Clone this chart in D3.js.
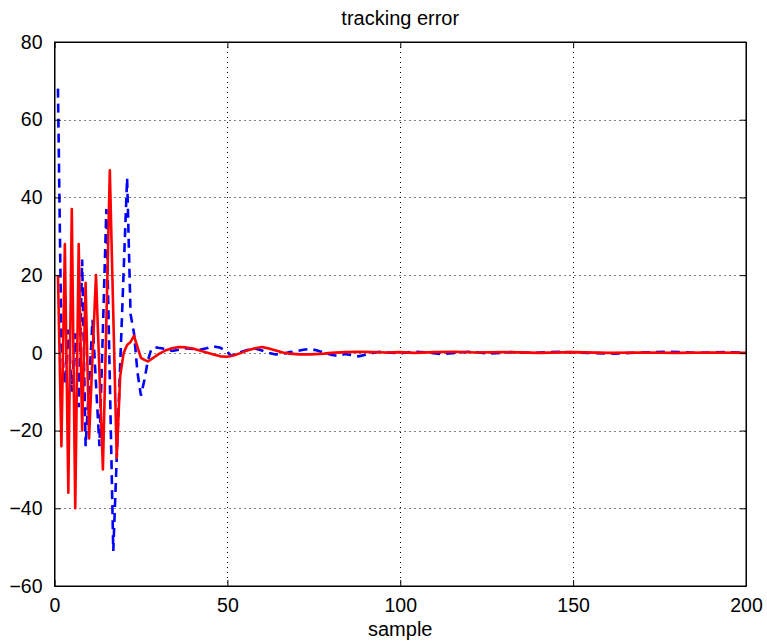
<!DOCTYPE html>
<meta charset="UTF-8">
<head>
    <title>tracking error</title>
    <style>
        body { margin: 0; background: #fff; }
        text { font-family: "Liberation Sans", Arial, sans-serif; }
    </style>
</head>
<body>
<svg width="767" height="644"></svg>
<script src="https://d3js.org/d3.v7.min.js"></script>
<script>

// Data (sample index, tracking error).
var redSamples = [1, 2, 3, 4, 5, 6, 7, 8, 9, 10, 11, 12, 13, 14, 15, 16, 17, 18, 19, 20,
    21, 22, 23, 24, 25, 26, 27, 28, 29, 30, 32, 34, 36, 38, 40, 42, 44, 46, 48, 50,
    52, 54, 56, 58, 60, 62, 64, 66, 68, 71, 74, 78, 80, 84, 88, 92, 96, 100, 104, 110,
    116, 122, 130, 140, 150, 160, 170, 180, 190, 200];
var redError = [20, -24, 28, -36, 37, -40, 28, -20, 18, -22, -1, 20, -5, -30, 8, 47, 10, -27, -6, 0,
    2, 2.8, 4.4, 1.5, -1.3, -1.8, -2.2, -1.6, -1, -0.4, 0.6, 1.2, 1.5, 1.4, 1.1, 0.6, 0.1, -0.4, -0.9, -1,
    -0.6, 0, 0.7, 1.2, 1.5, 1.1, 0.6, 0.1, -0.2, -0.4, -0.4, -0.2, 0, 0.2, 0.3, 0.2, 0.1, 0.2, 0, 0.2,
    0.3, 0.1, 0.2, 0, 0.2, 0, 0.1, 0, 0.1, 0];

var blueSamples = [1, 2, 3, 4, 5, 6, 7, 8, 9, 10, 11, 12, 13, 14, 15, 16, 17, 18, 19, 20,
    21, 22, 23, 24, 25, 26, 27, 28, 29, 30, 32, 34, 36, 38, 40, 42, 44, 46, 48, 50,
    51, 53, 56, 58, 60, 62, 64, 66, 68, 70, 72, 74, 76, 78, 80, 82, 84, 86, 88, 90,
    92, 94, 96, 100, 104, 108, 112, 116, 120, 126, 132, 138, 146, 154, 162, 170, 178, 186, 194, 200];
var blueError = [68, 2, -8, 6, -10, 5, -14, 24, -24, -8, 8.5, -8, -24, 6, 37, -7, -51, -27, -3, 21,
    45, 10, 5, -5, -11, -7, -2, 1, 1.5, 1.3, 1, 0.5, 0.8, 1.2, 1, 0.8, 1.2, 1.7, 1.3, 0.3,
    -0.8, 0, 0.8, 1.1, 0.6, 0, -0.4, -0.3, 0.2, 0.4, 0.8, 1, 0.6, 0, -0.5, -0.8, -0.3, -0.6, -0.9, -0.5,
    0, 0.3, 0.1, -0.1, 0.3, 0.1, -0.3, 0, 0.3, -0.2, 0.2, 0, 0.3, 0, -0.2, 0.1, 0.3, 0, 0.2, 0];

var xTicks = [0, 50, 100, 150, 200];
var yTicks = [-60, -40, -20, 0, 20, 40, 60, 80];

var svg = d3.select("svg"),
    width = +svg.attr("width"),
    height = +svg.attr("height");

// plot box (not "top": that name is taken by window.top)
var boxL = 54.5, boxR = 746, boxT = 42, boxB = 586;

var x = d3.scaleLinear().domain([0, 200]).range([boxL, boxR]);
var y = d3.scaleLinear().domain([-60, 80]).range([boxB, boxT]);

// grid (dotted)
var grid = svg.append("g").attr("stroke", "#000").attr("stroke-width", 1)
    .attr("stroke-dasharray", "1,4");
grid.selectAll(".gx").data(xTicks.slice(1, -1)).enter().append("line")
    .attr("x1", function(d) { return Math.round(x(d)) + 0.5; })
    .attr("x2", function(d) { return Math.round(x(d)) + 0.5; })
    .attr("y1", boxT).attr("y2", boxB);
grid.selectAll(".gy").data(yTicks.slice(1, -1)).enter().append("line")
    .attr("y1", function(d) { return Math.round(y(d)) + 0.5; })
    .attr("y2", function(d) { return Math.round(y(d)) + 0.5; })
    .attr("x1", boxL).attr("x2", boxR);

// lines
svg.append("clipPath").attr("id", "plotclip")
    .append("rect").attr("x", boxL).attr("y", boxT)
    .attr("width", boxR - boxL).attr("height", boxB - boxT);

var line = d3.line()
    .x(function(d) { return x(d[0]); })
    .y(function(d) { return y(d[1]); });

svg.append("path")
    .datum(d3.zip(blueSamples, blueError))
    .attr("clip-path", "url(#plotclip)")
    .attr("fill", "none")
    .attr("stroke", "#0000ff")
    .attr("stroke-width", 2.6)
    .attr("stroke-dasharray", "9,6")
    .attr("d", line);

svg.append("path")
    .datum(d3.zip(redSamples, redError))
    .attr("clip-path", "url(#plotclip)")
    .attr("fill", "none")
    .attr("stroke", "#ff0000")
    .attr("stroke-width", 2.6)
    .attr("stroke-linejoin", "round")
    .attr("d", line);

// axes (ticks inside, on all four sides)
var fmt = function(d) { return d3.format("d")(d); };

svg.append("g")
    .attr("transform", "translate(0," + boxB + ")")
    .call(d3.axisBottom(x).tickValues(xTicks).tickSizeInner(-6).tickSizeOuter(0).tickPadding(12).tickFormat(fmt));
svg.append("g")
    .attr("transform", "translate(0," + boxT + ")")
    .call(d3.axisTop(x).tickValues(xTicks).tickSizeInner(-6).tickSizeOuter(0).tickFormat(""));
svg.append("g")
    .attr("transform", "translate(" + boxL + ",0)")
    .call(d3.axisLeft(y).tickValues(yTicks).tickSizeInner(-6).tickSizeOuter(0).tickPadding(12).tickFormat(fmt));
svg.append("g")
    .attr("transform", "translate(" + boxR + ",0)")
    .call(d3.axisRight(y).tickValues(yTicks).tickSizeInner(-6).tickSizeOuter(0).tickFormat(""));

svg.selectAll(".domain").attr("stroke", "#000");
svg.selectAll(".tick line").attr("stroke", "#000");
svg.selectAll(".tick text")
    .attr("font-size", 19.5)
    .attr("font-family", "'Liberation Sans', Arial, sans-serif")
    .attr("fill", "#000");

// box
svg.append("rect")
    .attr("x", boxL).attr("y", boxT)
    .attr("width", boxR - boxL).attr("height", boxB - boxT)
    .attr("fill", "none").attr("stroke", "#000").attr("stroke-width", 1);

// title and x label
svg.append("text")
    .attr("x", (boxL + boxR) / 2).attr("y", 25)
    .attr("text-anchor", "middle").attr("font-size", 20)
    .text("tracking error");

svg.append("text")
    .attr("x", (boxL + boxR) / 2).attr("y", 636)
    .attr("text-anchor", "middle").attr("font-size", 20)
    .text("sample");

</script>
</body>
